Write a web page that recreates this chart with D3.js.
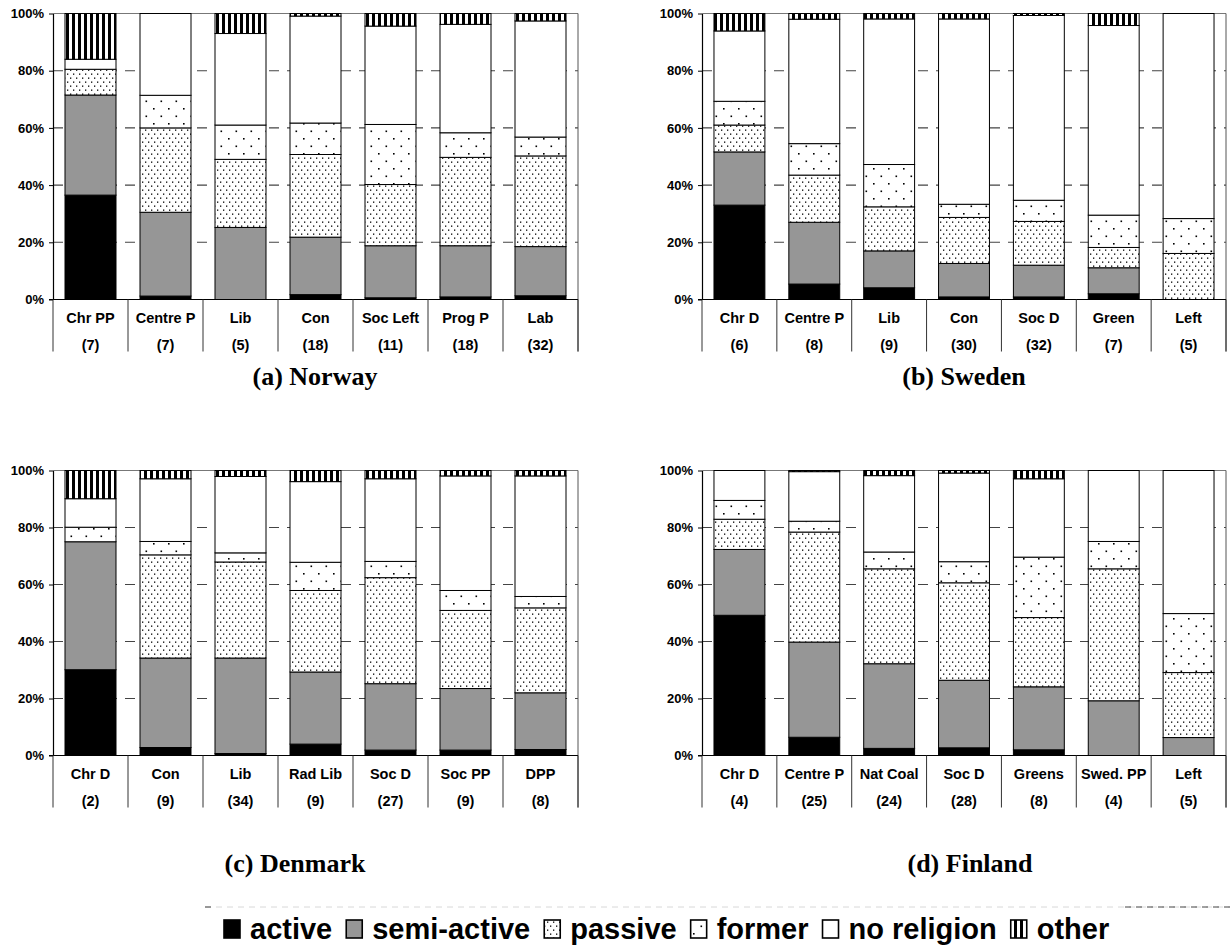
<!DOCTYPE html>
<html>
<head>
<meta charset="utf-8">
<script src="https://cdn.jsdelivr.net/npm/d3@7"></script>
<style>
  html, body { margin: 0; padding: 0; background: #fff; }
  svg { display: block; }
</style>
</head>
<body>
<svg id="chart" width="1230" height="950"></svg>
<script>
// ---------------- DATA ----------------
const segments = ["active", "semi-active", "passive", "former", "no religion", "other"];
const yTicks = [0, 20, 40, 60, 80, 100];

const norwayParties = ["Chr PP", "Centre P", "Lib", "Con", "Soc Left", "Prog P", "Lab"];
const norwayN = [7, 7, 5, 18, 11, 18, 32];
const norwayActive   = [36.5, 1.2, 0, 1.7, 0.6, 0.9, 1.3];
const norwaySemi     = [35.0, 29.3, 25.2, 20.1, 18.2, 17.9, 17.2];
const norwayPassive  = [9.0, 29.5, 23.8, 28.9, 21.4, 30.9, 31.7];
const norwayFormer   = [0, 11.4, 12.0, 11.0, 21.0, 8.6, 6.6];
const norwayNone     = [3.5, 28.6, 32.0, 37.4, 34.4, 37.9, 40.6];
const norwayOther    = [16.0, 0, 7.0, 0.9, 4.4, 3.8, 2.6];

const swedenParties = ["Chr D", "Centre P", "Lib", "Con", "Soc D", "Green", "Left"];
const swedenN = [6, 8, 9, 30, 32, 7, 5];
const swedenActive   = [33.0, 5.4, 4.1, 0.9, 0.9, 2.0, 0];
const swedenSemi     = [18.6, 21.6, 12.9, 11.7, 11.1, 9.1, 0];
const swedenPassive  = [9.4, 16.5, 15.4, 16.1, 15.3, 7.1, 16.1];
const swedenFormer   = [8.3, 11.0, 14.8, 4.6, 7.4, 11.3, 12.2];
const swedenNone     = [24.6, 43.5, 50.9, 64.8, 64.6, 66.3, 71.7];
const swedenOther    = [6.1, 2.0, 1.9, 1.9, 0.7, 4.2, 0];

const denmarkParties = ["Chr D", "Con", "Lib", "Rad Lib", "Soc D", "Soc PP", "DPP"];
const denmarkN = [2, 9, 34, 9, 27, 9, 8];
const denmarkActive  = [30.1, 2.8, 0.7, 4.0, 1.9, 1.9, 2.1];
const denmarkSemi    = [44.9, 31.4, 33.5, 25.3, 23.3, 21.6, 19.9];
const denmarkPassive = [0, 36.2, 33.7, 28.6, 37.2, 27.4, 29.8];
const denmarkFormer  = [5.1, 4.7, 3.2, 9.9, 5.7, 7.0, 4.0];
const denmarkNone    = [10.0, 22.0, 26.8, 28.3, 29.0, 40.2, 42.3];
const denmarkOther   = [9.9, 2.9, 2.1, 3.9, 2.9, 1.9, 1.9];

const finlandParties = ["Chr D", "Centre P", "Nat Coal", "Soc D", "Greens", "Swed. PP", "Left"];
const finlandN = [4, 25, 24, 28, 8, 4, 5];
const finlandActive  = [49.2, 6.4, 2.5, 2.7, 2.0, 0, 0];
const finlandSemi    = [23.1, 33.4, 29.7, 23.7, 22.1, 19.2, 6.3];
const finlandPassive = [10.6, 38.6, 33.3, 34.2, 24.3, 46.3, 22.8];
const finlandFormer  = [6.6, 3.8, 5.9, 7.4, 21.2, 9.6, 20.7];
const finlandNone    = [10.5, 17.4, 26.8, 31.1, 27.5, 24.9, 50.2];
const finlandOther   = [0, 0.4, 1.8, 0.9, 2.9, 0, 0];

// ---------------- LAYOUT ----------------
const svg = d3.select("#chart");
svg.append("rect").attr("width", 1230).attr("height", 950).attr("fill", "#fff");

const defs = svg.append("defs");
// passive: dense dots
const pPassive = defs.append("pattern").attr("id", "pat-passive")
  .attr("patternUnits", "userSpaceOnUse").attr("width", 6).attr("height", 8);
pPassive.append("rect").attr("width", 6).attr("height", 8).attr("fill", "#fff");
pPassive.append("rect").attr("x", 1).attr("y", 1.5).attr("width", 1.3).attr("height", 1.3).attr("fill", "#000");
pPassive.append("rect").attr("x", 4).attr("y", 5.5).attr("width", 1.3).attr("height", 1.3).attr("fill", "#000");
// former: sparse dots
const pFormer = defs.append("pattern").attr("id", "pat-former")
  .attr("patternUnits", "userSpaceOnUse").attr("width", 15).attr("height", 15);
pFormer.append("rect").attr("width", 15).attr("height", 15).attr("fill", "#fff");
pFormer.append("rect").attr("x", 3).attr("y", 3).attr("width", 1.6).attr("height", 1.6).attr("fill", "#000");
pFormer.append("rect").attr("x", 10.5).attr("y", 10.5).attr("width", 1.6).attr("height", 1.6).attr("fill", "#000");
// other: vertical stripes
const pOther = defs.append("pattern").attr("id", "pat-other")
  .attr("patternUnits", "userSpaceOnUse").attr("width", 6).attr("height", 10);
pOther.append("rect").attr("width", 6).attr("height", 10).attr("fill", "#fff");
pOther.append("rect").attr("x", 0).attr("width", 3).attr("height", 10).attr("fill", "#000");

const fills = {
  "active": "#000",
  "semi-active": "#969696",
  "passive": "url(#pat-passive)",
  "former": "url(#pat-former)",
  "no religion": "#fff",
  "other": "url(#pat-other)"
};

const panels = [
  { title: "(a) Norway", parties: norwayParties, n: norwayN,
    series: [norwayActive, norwaySemi, norwayPassive, norwayFormer, norwayNone, norwayOther],
    x0: 53, x1: 578, yTop: 13.5, yBot: 299.5, tx: 315, ty: 385 },
  { title: "(b) Sweden", parties: swedenParties, n: swedenN,
    series: [swedenActive, swedenSemi, swedenPassive, swedenFormer, swedenNone, swedenOther],
    x0: 702, x1: 1226, yTop: 13.5, yBot: 299.5, tx: 964, ty: 385 },
  { title: "(c) Denmark", parties: denmarkParties, n: denmarkN,
    series: [denmarkActive, denmarkSemi, denmarkPassive, denmarkFormer, denmarkNone, denmarkOther],
    x0: 53, x1: 578, yTop: 470.5, yBot: 755.5, tx: 295, ty: 872 },
  { title: "(d) Finland", parties: finlandParties, n: finlandN,
    series: [finlandActive, finlandSemi, finlandPassive, finlandFormer, finlandNone, finlandOther],
    x0: 702, x1: 1226, yTop: 470.5, yBot: 755.5, tx: 970, ty: 872 }
];

const sans = "Arial, 'Liberation Sans', Helvetica, sans-serif";
const serif = "'Times New Roman', 'Liberation Serif', serif";

panels.forEach(p => {
  const g = svg.append("g");
  const x = d3.scaleBand().domain(p.parties).range([p.x0, p.x1])
    .paddingInner(0.32).paddingOuter(0.16);
  const y = d3.scaleLinear().domain([0, 100]).range([p.yBot, p.yTop]);

  // gridlines
  g.append("g").selectAll("line").data(yTicks.filter(t => t > 0 && t < 100)).join("line")
    .attr("x1", p.x0).attr("x2", p.x1)
    .attr("y1", d => y(d)).attr("y2", d => y(d))
    .attr("stroke", "#444").attr("stroke-width", 1.1)
    .attr("stroke-dasharray", "10,8");

  // top frame line and right frame line
  g.append("line").attr("x1", p.x0).attr("x2", p.x1).attr("y1", y(100)).attr("y2", y(100))
    .attr("stroke", "#777").attr("stroke-width", 1);
  g.append("line").attr("x1", p.x1).attr("x2", p.x1).attr("y1", y(100)).attr("y2", p.yBot + 52)
    .attr("stroke", "#555").attr("stroke-width", 1);

  // stacked bars
  const rows = p.parties.map((party, i) => {
    const r = { party };
    segments.forEach((s, k) => r[s] = p.series[k][i]);
    return r;
  });
  const stacked = d3.stack().keys(segments)(rows);
  stacked.forEach(layer => {
    g.append("g").selectAll("rect")
      .data(layer.filter(d => d[1] - d[0] > 0))
      .join("rect")
      .attr("x", d => x(d.data.party))
      .attr("width", x.bandwidth())
      .attr("y", d => y(d[1]))
      .attr("height", d => y(d[0]) - y(d[1]))
      .attr("fill", fills[layer.key])
      .attr("stroke", "#000").attr("stroke-width", 1);
  });

  // y axis
  const axis = d3.axisLeft(y).tickValues(yTicks).tickFormat(d => d + "%")
    .tickSize(4).tickSizeOuter(0).tickPadding(5);
  const ag = g.append("g").attr("transform", `translate(${p.x0},0)`).call(axis);
  ag.select(".domain").attr("stroke", "#000").attr("stroke-width", 1.2);
  ag.selectAll(".tick line").attr("stroke", "#000");
  ag.selectAll(".tick text")
    .attr("font-family", sans).attr("font-weight", "bold").attr("font-size", 13)
    .attr("fill", "#000");

  // x axis baseline
  g.append("line").attr("x1", p.x0 - 4).attr("x2", p.x1).attr("y1", p.yBot).attr("y2", p.yBot)
    .attr("stroke", "#000").attr("stroke-width", 1.2);

  // category table dividers
  const step = x.step();
  const bounds = d3.range(p.parties.length + 1).map(i => p.x0 + i * step);
  g.append("g").selectAll("line").data(bounds).join("line")
    .attr("x1", d => d).attr("x2", d => d)
    .attr("y1", p.yBot).attr("y2", p.yBot + 52)
    .attr("stroke", "#333").attr("stroke-width", 1);

  // category labels
  const lg = g.append("g").attr("font-family", sans).attr("font-weight", "bold")
    .attr("font-size", 14.5).attr("text-anchor", "middle").attr("fill", "#000");
  lg.selectAll("text.name").data(p.parties).join("text").attr("class", "name")
    .attr("x", d => x(d) + x.bandwidth() / 2).attr("y", p.yBot + 23)
    .text(d => d);
  lg.selectAll("text.cnt").data(p.n).join("text").attr("class", "cnt")
    .attr("x", (d, i) => x(p.parties[i]) + x.bandwidth() / 2).attr("y", p.yBot + 50)
    .text(d => "(" + d + ")");

  // title
  g.append("text").attr("x", p.tx).attr("y", p.ty)
    .attr("text-anchor", "middle").attr("font-family", serif)
    .attr("font-weight", "bold").attr("font-size", 26).attr("fill", "#000")
    .text(p.title);
});

// ---------------- LEGEND ----------------
svg.append("line").attr("x1", 205).attr("x2", 1230).attr("y1", 907).attr("y2", 907)
  .attr("stroke", "#d8d8d8").attr("stroke-width", 1).attr("stroke-dasharray", "6,5");
svg.append("line").attr("x1", 205).attr("x2", 216).attr("y1", 907).attr("y2", 907)
  .attr("stroke", "#444").attr("stroke-width", 1).attr("stroke-dasharray", "6,5");
svg.append("line").attr("x1", 1125).attr("x2", 1230).attr("y1", 907).attr("y2", 907)
  .attr("stroke", "#444").attr("stroke-width", 1).attr("stroke-dasharray", "6,5");

const leg = svg.append("g");
let lx = 223;
const ly = 939;
segments.forEach(s => {
  leg.append("rect").attr("x", lx + 1).attr("y", ly - 19).attr("width", 16).attr("height", 18)
    .attr("fill", fills[s]).attr("stroke", "#000").attr("stroke-width", 1.6);
  const t = leg.append("text").attr("x", lx + 27).attr("y", ly)
    .attr("font-family", sans).attr("font-weight", "bold").attr("font-size", 29)
    .attr("fill", "#000").text(s);
  lx += 27 + t.node().getComputedTextLength() + 13;
});
</script>
</body>
</html>
